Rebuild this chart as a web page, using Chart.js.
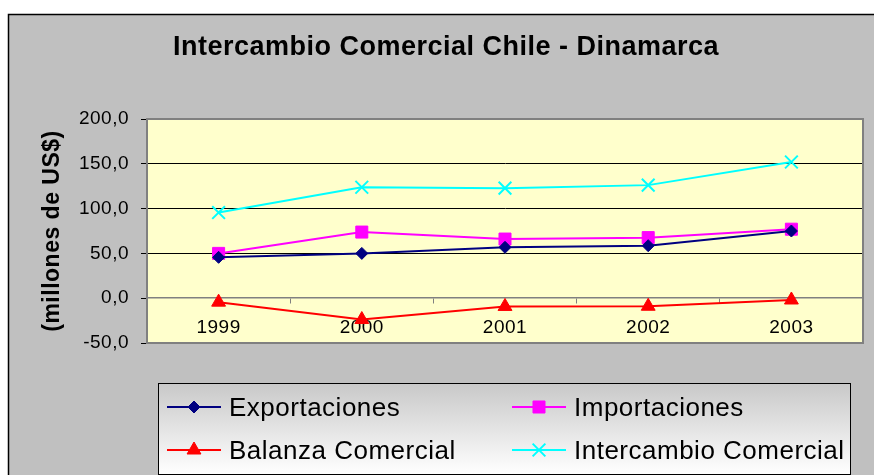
<!DOCTYPE html>
<html>
<head>
<meta charset="utf-8">
<script src="https://cdn.jsdelivr.net/npm/chart.js@4.4.1/dist/chart.umd.min.js"></script>
<style>
  html, body { margin: 0; padding: 0; background: #fff; overflow: hidden; }
  canvas { display: block; }
</style>
</head>
<body>
<canvas id="chart" width="874" height="475"></canvas>
<script>
// Datos (millones de US$)
const years = ['1999', '2000', '2001', '2002', '2003'];
const exportaciones = [45.6, 50.0, 56.8, 58.6, 75.0];
const importaciones = [50.0, 73.8, 66.0, 67.6, 77.0];
const balanza = [-4.4, -23.8, -9.2, -9.0, -2.0];
const intercambio = [95.6, 123.8, 122.8, 126.2, 152.0];
const yTicks = [-50, 0, 50, 100, 150, 200];

const FONT = '"Liberation Sans", Arial, sans-serif';
Chart.defaults.font.family = FONT;
Chart.defaults.color = '#000';

// Fondo gris, marco, area amarilla, titulo y leyenda
const marco = {
  id: 'marco',
  beforeDraw(chart) {
    const { ctx, chartArea: a } = chart;
    ctx.save();
    ctx.fillStyle = '#fff';
    ctx.fillRect(0, 0, chart.width, chart.height);
    ctx.fillStyle = '#c0c0c0';
    ctx.fillRect(8, 14, chart.width, chart.height);
    ctx.strokeStyle = '#000';
    ctx.lineWidth = 1.5;
    ctx.strokeRect(8.5, 14.5, chart.width + 10, chart.height + 10);
    ctx.fillStyle = '#ffffcc';
    ctx.fillRect(a.left, a.top, a.right - a.left, a.bottom - a.top);

    ctx.letterSpacing = '0.5px';
    ctx.font = 'bold 27px ' + FONT;
    ctx.fillStyle = '#000';
    ctx.textAlign = 'center';
    ctx.textBaseline = 'alphabetic';
    ctx.fillText('Intercambio Comercial Chile - Dinamarca', 446, 55);
    ctx.restore();
    ctx.letterSpacing = '0.5px';
  },
  beforeDatasetsDraw(chart) {
    const { ctx, chartArea: a } = chart;
    ctx.save();
    ctx.strokeStyle = '#808080';
    ctx.lineWidth = 2;
    ctx.strokeRect(a.left, a.top, a.right - a.left, a.bottom - a.top);
    ctx.restore();
  },
  afterDraw(chart) {
    const { ctx } = chart;
    ctx.save();
    const bx = 158, by = 383, bw = 692, bh = 91;
    const g = ctx.createLinearGradient(0, by, 0, by + bh);
    g.addColorStop(0, '#c8c8c8');
    g.addColorStop(1, '#ffffff');
    ctx.fillStyle = g;
    ctx.fillRect(bx, by, bw, bh);
    ctx.strokeStyle = '#000';
    ctx.lineWidth = 1;
    ctx.strokeRect(bx + 0.5, by + 0.5, bw, bh);

    const cols = [167, 512];
    const rows = [407, 450];
    ctx.letterSpacing = '0.5px';
    ctx.font = '26px ' + FONT;
    ctx.textAlign = 'left';
    ctx.textBaseline = 'alphabetic';
    chart.data.datasets.forEach((ds, i) => {
      const x = cols[i % 2], y = rows[Math.floor(i / 2)];
      ctx.strokeStyle = ds.borderColor;
      ctx.fillStyle = ds.borderColor;
      ctx.lineWidth = 2;
      ctx.beginPath();
      ctx.moveTo(x, y);
      ctx.lineTo(x + 54, y);
      ctx.stroke();
      ctx.lineWidth = ds.pointBorderWidth;
      Chart.helpers.drawPoint(ctx, {
        pointStyle: ds.pointStyle, radius: ds.pointRadius,
        borderWidth: ds.pointBorderWidth, rotation: 0
      }, x + 27, y);
      ctx.fillStyle = '#000';
      ctx.fillText(ds.label, x + 62, y + 9);
    });
    ctx.restore();
  }
};

new Chart(document.getElementById('chart'), {
  type: 'line',
  data: {
    labels: years,
    datasets: [
      { label: 'Exportaciones', data: exportaciones, borderColor: '#000080', backgroundColor: '#000080',
        pointStyle: 'rectRot', pointRadius: 6, pointBorderWidth: 1 },
      { label: 'Importaciones', data: importaciones, borderColor: '#ff00ff', backgroundColor: '#ff00ff',
        pointStyle: 'rect', pointRadius: 8.5, pointBorderWidth: 1 },
      { label: 'Balanza Comercial', data: balanza, borderColor: '#ff0000', backgroundColor: '#ff0000',
        pointStyle: 'triangle', pointRadius: 8, pointBorderWidth: 1 },
      { label: 'Intercambio Comercial', data: intercambio, borderColor: '#00ffff', backgroundColor: '#00ffff',
        pointStyle: 'crossRot', pointRadius: 9, pointBorderWidth: 2 }
    ].map(d => Object.assign({ borderWidth: 2, tension: 0, fill: false }, d))
  },
  options: {
    responsive: false,
    devicePixelRatio: 1,
    animation: false,
    events: [],
    layout: { padding: { top: 119, bottom: 132, left: 0, right: 11 } },
    plugins: { legend: { display: false }, title: { display: false }, tooltip: { enabled: false } },
    scales: {
      x: {
        type: 'category',
        offset: true,
        position: { y: 0 },
        grid: { offset: true, drawOnChartArea: false, drawTicks: true, tickLength: 5, color: '#808080' },
        border: { color: '#808080', width: 1.5 },
        ticks: { font: { size: 19 }, padding: 13, maxRotation: 0, autoSkip: false }
      },
      y: {
        min: -50,
        max: 200,
        afterFit: s => { s.width = 147; },
        afterBuildTicks: s => { s.ticks = yTicks.map(v => ({ value: v })); },
        grid: {
          color: c => (c.tick && [50, 100, 150].includes(c.tick.value)) ? '#000' : 'rgba(0,0,0,0)',
          tickColor: '#000',
          tickLength: 6,
          lineWidth: 1
        },
        border: { color: '#808080', width: 2 },
        ticks: {
          font: { size: 19 },
          padding: 12,
          callback: v => v.toFixed(1).replace('.', ',')
        },
        title: {
          display: true,
          text: '(millones de US$)',
          font: { size: 23, weight: 'bold' },
          padding: { top: 39, bottom: 0 }
        }
      }
    }
  },
  plugins: [marco]
});
</script>
</body>
</html>
